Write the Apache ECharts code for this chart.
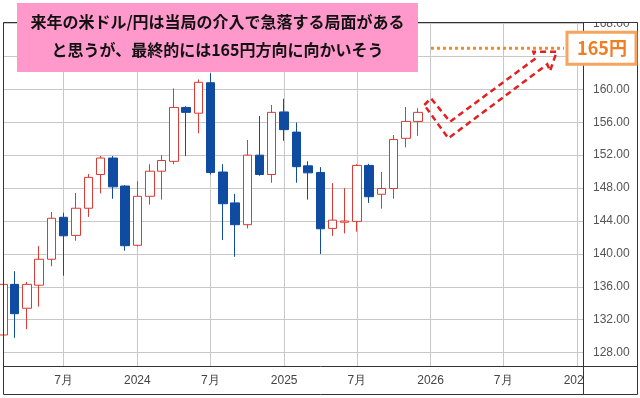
<!DOCTYPE html>
<html><head><meta charset="utf-8">
<script src="https://cdn.jsdelivr.net/npm/echarts@6/dist/echarts.min.js"></script>
<style>html,body{margin:0;padding:0;background:#fff}#c{width:640px;height:398px}</style>
</head><body><div id="c"></div>
<script>
const months = ['2023-02-01','2023-03-01','2023-04-01','2023-05-01','2023-06-01','2023-07-01','2023-08-01','2023-09-01','2023-10-01','2023-11-01','2023-12-01',
  '2024-01-01','2024-02-01','2024-03-01','2024-04-01','2024-05-01','2024-06-01','2024-07-01','2024-08-01','2024-09-01','2024-10-01','2024-11-01','2024-12-01',
  '2025-01-01','2025-02-01','2025-03-01','2025-04-01','2025-05-01','2025-06-01','2025-07-01','2025-08-01','2025-09-01','2025-10-01','2025-11-01','2025-12-01'];
const openV  = [130.15,136.3,133.4,136.2,139.35,144.45,142.25,145.55,149.65,151.65,148.25,
  141.05,147.0,150.05,151.25,157.8,157.1,160.8,149.95,146.2,143.55,152.0,149.65,
  157.25,154.8,150.7,149.9,143.1,143.85,143.95,150.75,147.25,147.95,154.05,156.1];
const closeV = [136.3,132.74,136.3,139.35,144.33,142.2,145.55,149.3,151.65,148.15,141.0,
  147.0,150.05,151.35,157.8,157.2,160.85,149.9,146.1,143.55,152.0,149.65,157.2,
  155.1,150.6,149.85,143.05,144.1,144.0,150.75,146.95,147.95,153.9,156.1,157.2];
const lowV   = [128.1,129.8,130.85,133.6,138.5,137.35,141.6,144.5,147.35,146.7,140.4,
  140.9,146.0,146.6,150.9,151.9,154.65,149.65,141.7,139.65,143.1,149.5,148.65,
  153.75,148.65,146.6,140.0,142.2,142.5,142.7,146.2,145.5,146.7,152.95,154.35];
const highV  = [136.9,137.9,136.6,140.95,145.1,145.0,147.4,149.7,151.9,151.9,148.35,
  148.85,150.9,152.0,160.1,157.95,161.2,161.95,150.9,147.3,153.85,156.75,158.1,
  158.85,155.95,151.25,150.55,148.6,148.0,150.9,150.95,149.95,154.45,157.85,157.7];
const xTickDates  = ['2023-07-01','2024-01-01','2024-07-01','2025-01-01','2025-07-01','2026-01-01','2026-07-01','2027-01-01'];
const xTickLabels = ['7月','2024','7月','2025','7月','2026','7月','2027'];
const yTicks = [128,132,136,140,144,148,152,156,160,164,168];
const titleLines = ['来年の米ドル/円は当局の介入で急落する局面がある','と思うが、最終的には165円方向に向かいそう'];
const targetValue = 165;
const targetLabel = '165円';

const chart = echarts.init(document.getElementById('c'), null, {renderer:'canvas'});
const tickMap = {};
xTickDates.forEach((d,i)=>{ tickMap[echarts.number.parseDate(d).getTime()] = xTickLabels[i]; });
const candleData = months.map((m,i)=>[m, openV[i], closeV[i], lowV[i], highV[i]]);
const DAY = 86400000;

const RED = '#dc3a32', BLUE = '#0f4ba0';
chart.setOption({
  animation:false,
  grid:{left:3, right:57, top:22, bottom:32, containLabel:false},
  xAxis:{type:'time', min:'2023-01-31', max:'2027-01-16', minInterval:180*DAY, maxInterval:185*DAY,
    axisLine:{show:false}, axisTick:{show:false},
    splitLine:{show:true, lineStyle:{color:'#c8c8c8', width:1}},
    axisLabel:{color:'#444', fontSize:12, fontFamily:'Liberation Sans', margin:9, hideOverlap:false,
      formatter:(v)=> tickMap[v] !== undefined ? tickMap[v] : ''}},
  yAxis:{type:'value', position:'right', min:126.38, max:168.18, scale:true,
    axisLine:{show:false}, axisTick:{show:false, customValues:yTicks},
    splitLine:{show:true, lineStyle:{color:'#c8c8c8', width:1}},
    axisLabel:{customValues:yTicks, color:'#555', fontSize:12, fontFamily:'Liberation Sans', margin:10,
      formatter:(v)=>v.toFixed(2)}},
  series:[{type:'candlestick', data:candleData, encode:{x:0, y:[1,2,3,4]}, barWidth:9, clip:true,
    itemStyle:{color:'#ffffff', color0:BLUE, borderColor:RED, borderColor0:BLUE, borderWidth:1}}]
});

const yT = chart.convertToPixel({yAxisIndex:0}, targetValue);
chart.setOption({graphic:[
  {type:'rect', z:100, shape:{x:584, y:367, width:53, height:27}, style:{fill:'#fff'}},
  {type:'rect', z:100, shape:{x:584, y:0, width:56, height:22}, style:{fill:'#fff'}},
  {type:'rect', z:101, shape:{x:3.5, y:22.5, width:634, height:372}, style:{fill:null, stroke:'#333', lineWidth:1}},
  {type:'line', z:101, shape:{x1:583.5, y1:22.5, x2:583.5, y2:394.5}, style:{stroke:'#333', lineWidth:1}},
  {type:'line', z:101, shape:{x1:3.5, y1:366.5, x2:637.5, y2:366.5}, style:{stroke:'#333', lineWidth:1}},
  {type:'rect', z:102, shape:{x:17, y:3, width:401, height:69}, style:{fill:'#ff99cc'}},
  {type:'text', z:103, style:{text:titleLines[0], x:217.5, y:22, align:'center', verticalAlign:'middle', font:"bold 16px 'Noto Sans CJK JP'", fill:'#111'}},
  {type:'text', z:103, style:{text:titleLines[1], x:217.5, y:50, align:'center', verticalAlign:'middle', font:"bold 16px 'Noto Sans CJK JP'", fill:'#111'}},
  {type:'line', z:103, shape:{x1:431, y1:yT, x2:564, y2:yT}, style:{stroke:'#f08a2c', lineWidth:3, lineDash:[3,3]}},
  {type:'rect', z:104, shape:{x:567, y:yT-16, width:69, height:32}, style:{fill:'#fff', stroke:'#f6a45e', lineWidth:3}},
  {type:'text', z:105, style:{text:targetLabel, x:602, y:yT, align:'center', verticalAlign:'middle', font:"bold 18px 'Noto Sans CJK JP'", fill:'#ef7d22'}},
  {type:'polygon', z:103, shape:{points:[[424.3,105],[431,98.3],[450,121.7],[535.7,58.3],[533.3,51.7],[556.7,51.7],[550,71],[547.3,64.3],[448.3,138.3]]},
    style:{fill:null, stroke:'#e51f1f', lineWidth:2.5, lineDash:[6,4]}}
]});
</script></body></html>
